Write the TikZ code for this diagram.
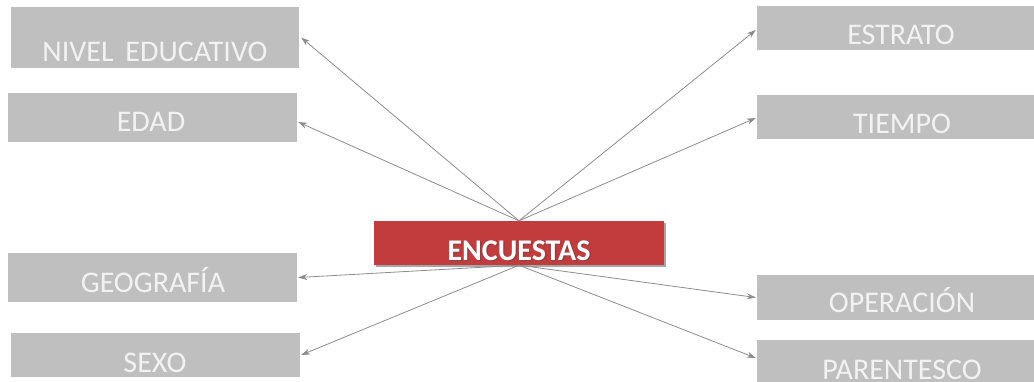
\documentclass[tikz,border=0pt]{standalone}
\usepackage{fontspec}
\setmainfont{Carlito}
\usetikzlibrary{arrows.meta,shadows}
\definecolor{boxgray}{HTML}{BFBFBF}
\definecolor{encred}{HTML}{C23C3E}
\definecolor{linegray}{HTML}{8C8C8C}
\tikzset{
  graybox/.style={fill=boxgray, draw=none, inner sep=0pt},
  lbl/.style={anchor=base, text=white!95!black, inner sep=0pt, font=\fontsize{30}{33}\selectfont},
  conn/.style={draw=linegray, line width=0.8pt, -{Stealth[length=9pt,width=6pt]}},
}
\begin{document}
\begin{tikzpicture}[x=1pt,y=-1pt]
\useasboundingbox (0,0) rectangle (1034,381);
\clip (0,0) rectangle (1034,381);
% left boxes
\node[graybox, minimum width=288pt, minimum height=61pt] (nivel) at (155,37.5) {};
\node[graybox, minimum width=289pt, minimum height=49pt] (edad) at (152.5,117.5) {};
\node[graybox, minimum width=289pt, minimum height=49pt] (geo) at (152.5,277.5) {};
\node[graybox, minimum width=289pt, minimum height=44pt] (sexo) at (155.5,355) {};
% right boxes
\node[graybox, minimum width=290pt, minimum height=44pt] (estrato) at (902,28) {};
\node[graybox, minimum width=290pt, minimum height=44pt] (tiempo) at (902,117) {};
\node[graybox, minimum width=290pt, minimum height=45pt] (oper) at (902,297.5) {};
\node[graybox, minimum width=290pt, minimum height=45pt] (paren) at (902,362.5) {};
% labels
\node[lbl] (tnivel) at (155,61) {NIVEL\, EDUCATIVO};
\node[lbl] (tedad) at (151,131) {EDAD};
\node[lbl] (tgeo) at (153,292) {GEOGRAFÍA};
\node[lbl] (tsexo) at (155,372) {SEXO};
\node[lbl] (testrato) at (901,44) {ESTRATO};
\node[lbl] (ttiempo) at (902,133) {TIEMPO};
\node[lbl] (toper) at (902,312) {OPERACIÓN};
\node[lbl] (tparen) at (902,379) {PARENTESCO};
% center
\node[fill=encred, minimum width=290pt, minimum height=44pt, inner sep=0pt,
      drop shadow={shadow xshift=2pt, shadow yshift=-2pt, fill=black, opacity=0.35}] (enc) at (519,243) {};
\node[anchor=base, inner sep=0pt, text=black!70, opacity=0.5, font=\bfseries\fontsize{30}{33}\selectfont] (encsh) at (520.5,261.5) {ENCUESTAS};
\node[anchor=base, inner sep=0pt, text=white, font=\bfseries\fontsize{30}{33}\selectfont] (enct) at (519,260) {ENCUESTAS};
% connectors
\draw[conn] (enc.north) -- ([xshift=2pt]nivel.east);
\draw[conn] (enc.north) -- ([xshift=1pt,yshift=-4.5pt]edad.east);
\draw[conn] (enc.north) -- ([xshift=-1pt,yshift=-2pt]estrato.west);
\draw[conn] (enc.north) -- ([xshift=-1pt,yshift=-1pt]tiempo.west);
\draw[conn] (enc.south) -- ([xshift=1pt]geo.east);
\draw[conn] (enc.south) -- ([xshift=1pt]sexo.east);
\draw[conn] (enc.south) -- ([xshift=-1pt]oper.west);
\draw[conn] (enc.south) -- ([xshift=-1pt,yshift=4.5pt]paren.west);
\end{tikzpicture}
\end{document}
